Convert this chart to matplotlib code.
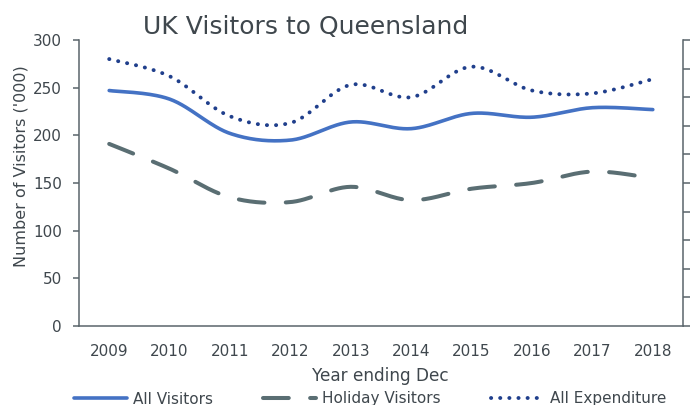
import numpy as np
import matplotlib
matplotlib.use("Agg")
import matplotlib.pyplot as plt

years = ["2009", "2010", "2011", "2012", "2013", "2014", "2015", "2016", "2017", "2018"]
all_visitors = [247, 238, 202, 195, 214, 207, 223, 219, 229, 227]
holiday_visitors = [191, 165, 135, 130, 146, 132, 144, 150, 162, 155]
all_expenditure = [280, 262, 220, 213, 253, 240, 272, 247, 244, 259]

title = "UK Visitors to Queensland"
ylabel = "Number of Visitors ('000)"
xlabel = "Year ending Dec"

TEXT = "#3F474D"
SPINE = "#5A656B"


def smooth(y, n=30):
    """Catmull-Rom curve through the data points (rendering only)."""
    y = np.asarray(y, float)
    x = np.arange(len(y), dtype=float)
    px = np.concatenate([[x[0]], x, [x[-1]]])
    py = np.concatenate([[y[0]], y, [y[-1]]])
    xs, ys = [], []
    for i in range(1, len(px) - 2):
        p0, p1, p2, p3 = (np.array([px[j], py[j]]) for j in (i - 1, i, i + 1, i + 2))
        t = np.linspace(0, 1, n, endpoint=(i == len(px) - 3))[:, None]
        pts = 0.5 * ((2 * p1) + (-p0 + p2) * t + (2 * p0 - 5 * p1 + 4 * p2 - p3) * t ** 2
                     + (-p0 + 3 * p1 - 3 * p2 + p3) * t ** 3)
        xs.append(pts[:, 0]); ys.append(pts[:, 1])
    return np.concatenate(xs), np.concatenate(ys)


plt.rcParams['font.family'] = ['DejaVu Sans']
fig = plt.figure(figsize=(6.95, 4.05), dpi=100)
ax = fig.add_axes([79 / 695, 1 - 326 / 405, (683 - 79) / 695, (326 - 40) / 405])

x1, y1 = smooth(all_visitors)
ax.plot(x1, y1, color="#4472C4", lw=2.6, solid_capstyle='round', label="All Visitors")
x2, y2 = smooth(holiday_visitors)
ax.plot(x2, y2, color="#5A6E73", lw=2.9, dashes=(6.4, 5.3), dash_capstyle='round',
        label="Holiday Visitors")
x3, y3 = smooth(all_expenditure)
ax.plot(x3, y3, color="#203F8C", lw=2.8, dashes=(0.05, 2.3), dash_capstyle='round',
        label="All Expenditure")

ax.set_xlim(-0.5, len(years) - 0.5)
ax.set_ylim(0, 300)
ax.set_yticks(np.arange(0, 301, 50))
ax.set_xticks(np.arange(len(years)))
ax.set_xticklabels(years)
ax.tick_params(axis='x', length=0, pad=13, labelsize=11, labelcolor=TEXT)
ax.tick_params(axis='y', length=4.3, width=1.1, color=SPINE, pad=8, labelsize=11, labelcolor=TEXT)
for s in ['top', 'right']:
    ax.spines[s].set_visible(False)
for s in ['left', 'bottom']:
    ax.spines[s].set_color(SPINE)
    ax.spines[s].set_linewidth(1.1)

ax2 = ax.twinx()
ax2.set_ylim(0, 10)
ax2.set_yticks(np.arange(0, 11, 1))
ax2.set_yticklabels([])
ax2.tick_params(axis='y', length=5, width=1.1, color=SPINE)
for s in ['top', 'left', 'bottom']:
    ax2.spines[s].set_visible(False)
ax2.spines['right'].set_color(SPINE)
ax2.spines['right'].set_linewidth(1.1)

fig.text(21 / 695, 1 - 166 / 405, ylabel, rotation=90, ha='center', va='center',
         fontsize=11.5, color=TEXT)
fig.text(380 / 695, 1 - 381 / 405, xlabel, ha='center', va='baseline', fontsize=12.2, color=TEXT)
fig.text(306 / 695, 1 - 34 / 405, title, ha='center', va='baseline', fontsize=18, color=TEXT)

leg = fig.legend(loc='center', bbox_to_anchor=(370 / 695, 1 - 399 / 405), ncol=3, frameon=False,
                 fontsize=11, handlelength=3.45, handletextpad=0.4, columnspacing=3.3,
                 labelcolor=TEXT)

fig.savefig("out.png", dpi=100)
